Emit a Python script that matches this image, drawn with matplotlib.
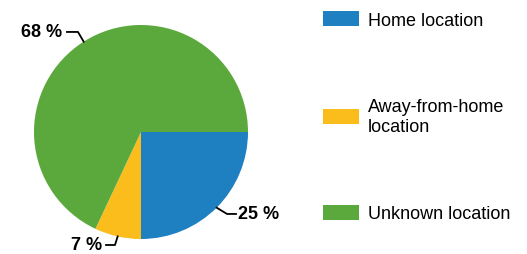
import numpy as np
import matplotlib.pyplot as plt

plt.rcParams['font.family'] = ['Liberation Sans', 'DejaVu Sans']

labels = ['Home location', 'Away-from-home\nlocation', 'Unknown location']
shares = [25, 7, 68]
pct_text = ['25 %', '7 %', '68 %']
colors = ['#1f80c1', '#fbbd1b', '#5ba93c']

W, H = 527, 255
fig = plt.figure(figsize=(W / 100, H / 100), dpi=100)

# pie centre (141, 133) px, radius 107 px
cx, cy, r = 141, 133, 107
ax = fig.add_axes([(cx - r) / W, (H - cy - r) / H, 2 * r / W, 2 * r / H])
wedges, _ = ax.pie(shares, colors=colors, startangle=0, counterclock=False,
                   radius=1, wedgeprops=dict(linewidth=0))
ax.set_xlim(-1, 1)
ax.set_ylim(-1, 1)
ax.set_aspect('auto')
ax.axis('off')

# leader lines: edge point -> elbow -> end, then label
leaders = {
    0: dict(elbow=(0.804, -0.766), end=(0.888, -0.766), tx=0.907, ha='left'),
    1: dict(elbow=(-0.243, -1.056), end=(-0.327, -1.056), tx=-0.364, ha='right'),
    2: dict(elbow=(-0.589, 0.935), end=(-0.692, 0.935), tx=-0.738, ha='right'),
}
for i, w in enumerate(wedges):
    mid = np.deg2rad((w.theta1 + w.theta2) / 2)
    ex, ey = np.cos(mid), np.sin(mid)
    L = leaders[i]
    ax.plot([ex, L['elbow'][0], L['end'][0]], [ey, L['elbow'][1], L['end'][1]],
            color='black', lw=1.3, clip_on=False)
    ax.text(L['tx'], L['end'][1], pct_text[i], ha=L['ha'], va='center',
            fontsize=13, fontweight='bold', clip_on=False)

fig.legend(wedges, labels, loc='upper left', bbox_to_anchor=(323 / W, 1 - 12 / H),
           frameon=False, fontsize=13, labelspacing=3.86, handlelength=2.0,
           handleheight=0.9, handletextpad=0.5, borderpad=0, borderaxespad=0)

fig.savefig('out.png', dpi=100)
